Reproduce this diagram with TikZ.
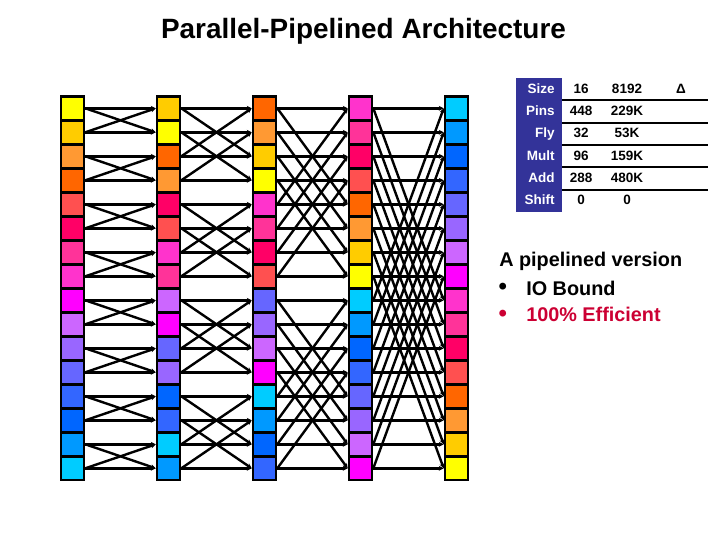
\documentclass[tikz,border=0pt]{standalone}
\usepackage{fontspec}
\setmainfont{Liberation Sans}
\usetikzlibrary{arrows.meta}
\definecolor{cell0}{HTML}{FFFF00}
\definecolor{cell1}{HTML}{FFCC00}
\definecolor{cell2}{HTML}{FF9933}
\definecolor{cell3}{HTML}{FF6600}
\definecolor{cell4}{HTML}{FF5050}
\definecolor{cell5}{HTML}{FF0066}
\definecolor{cell6}{HTML}{FF3399}
\definecolor{cell7}{HTML}{FF33CC}
\definecolor{cell8}{HTML}{FF00FF}
\definecolor{cell9}{HTML}{CC66FF}
\definecolor{cell10}{HTML}{9966FF}
\definecolor{cell11}{HTML}{6666FF}
\definecolor{cell12}{HTML}{3366FF}
\definecolor{cell13}{HTML}{0066FF}
\definecolor{cell14}{HTML}{0099FF}
\definecolor{cell15}{HTML}{00CCFF}
\definecolor{TblBlue}{HTML}{333399}
\definecolor{EffRed}{HTML}{CC0033}
\tikzset{
  cellbox/.style={draw=black,line width=0.065cm,minimum width=0.575cm,minimum height=0.59cm,inner sep=0pt},
  wire/.style={line width=0.06cm,-{Stealth[length=3.5pt,width=3.5pt]}},
  tbltext/.style={font=\fontsize{9.6}{11}\selectfont\bfseries,inner sep=0pt},
  listtext/.style={font=\fontsize{14.1}{16}\selectfont\bfseries,anchor=base west,inner sep=0pt},
  dottext/.style={font=\fontsize{17}{17}\selectfont\bfseries,anchor=base,inner sep=0pt}
}

\begin{document}
\begin{tikzpicture}[x=0.025cm,y=-0.025cm]
\path[use as bounding box] (0,0) rectangle (720,540);
\node[font=\fontsize{19.85}{23}\selectfont\bfseries,inner sep=0pt,anchor=base] (title) at (363.5,38.3) {Parallel-Pipelined Architecture};
% columns of cells
\foreach \col/\xc in {0/72.5,1/168.5,2/264.5,3/360.5,4/456.5} {
  \pgfmathtruncatemacro\blk{2^\col}
  \foreach \row in {0,...,15} {
    \pgfmathtruncatemacro\shade{floor(\row/\blk)*\blk+\blk-1-mod(\row,\blk)}
    \node[cellbox,fill=cell\shade] (c\col-\row) at (\xc,108.3+24*\row) {};
  }
}
% straight and crossing wires
\foreach \col in {0,...,3} {
  \pgfmathtruncatemacro\nxt{\col+1}
  \pgfmathtruncatemacro\hop{2^\col}
  \foreach \row in {0,...,15} {
    \pgfmathtruncatemacro\mate{mod(floor(\row/\hop),2)==0 ? \row+\hop : \row-\hop}
    \draw[wire] (c\col-\row.east) -- (c\nxt-\row.west);
    \draw[wire] (c\col-\row.east) -- (c\nxt-\mate.west);
  }
}
% table
\fill[TblBlue] (516,78) rectangle (562,212);
\foreach \yr in {100,122.5,145,167,190} \draw[line width=0.05cm] (562,\yr) -- (708,\yr);
\foreach \lab/\aa/\bb [count=\n from 0] in {Size/16/8192,Pins/448/229K,Fly/32/53K,Mult/96/159K,Add/288/480K,Shift/0/0} {
  \node[tbltext,text=white,anchor=base east] (lab\n) at (555,93.5+22.2*\n) {\lab};
  \node[tbltext,anchor=base] (aa\n) at (581,93.5+22.2*\n) {\aa};
  \node[tbltext,anchor=base] (bb\n) at (627,93.5+22.2*\n) {\bb};
}
\node[tbltext,anchor=base] (delta) at (681,93.5) {Δ};
% list
\node[listtext] (head) at (499,266.5) {A pipelined version};
\node[dottext] (dot1) at (502.7,294.5) {•};
\node[listtext] (item1) at (526,295) {IO Bound};
\node[dottext,text=EffRed] (dot2) at (502.7,321.5) {•};
\node[listtext,text=EffRed] (item2) at (526,321.7) {100\% Efficient};
\end{tikzpicture}
\end{document}
